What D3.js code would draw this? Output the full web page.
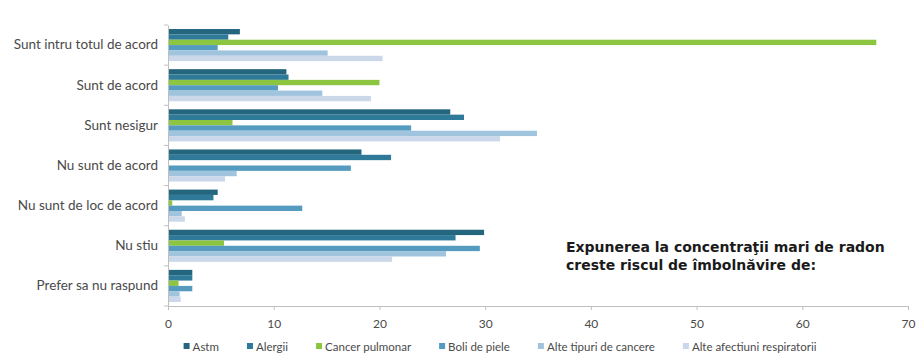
<!DOCTYPE html>
<html>
<head>
<meta charset="utf-8">
<script src="https://cdn.jsdelivr.net/npm/d3@7/dist/d3.min.js"></script>
<style>
  html, body { margin: 0; padding: 0; background: #fff; }
  svg { display: block; }
  text { font-family: Lato, "Open Sans", "DejaVu Sans", sans-serif; }
  text.note { font-family: "DejaVu Sans", Verdana, sans-serif; font-weight: bold; }
</style>
</head>
<body>
<svg id="chart" width="920" height="360"></svg>
<script>
// Response categories (top to bottom)
const categories = [
  "Sunt intru totul de acord",
  "Sunt de acord",
  "Sunt nesigur",
  "Nu sunt de acord",
  "Nu sunt de loc de acord",
  "Nu stiu",
  "Prefer sa nu raspund"
];

// Series names (legend order)
const seriesNames = [
  "Astm",
  "Alergii",
  "Cancer pulmonar",
  "Boli de piele",
  "Alte tipuri de cancere",
  "Alte afectiuni respiratorii"
];

// Percentages per series, in category order
const astm      = [6.8, 11.2, 26.7, 18.3, 4.7, 29.9, 2.3];
const alergii   = [5.7, 11.4, 28.0, 21.1, 4.3, 27.2, 2.3];
const cancerPul = [67.0, 20.0, 6.1, 0.0, 0.4, 5.3, 1.0];
const boliPiele = [4.7, 10.4, 23.0, 17.3, 12.7, 29.5, 2.3];
const alteCanc  = [15.1, 14.6, 34.9, 6.5, 1.3, 26.3, 1.1];
const alteResp  = [20.3, 19.2, 31.4, 5.4, 1.6, 21.2, 1.2];

const xTicks = [0, 10, 20, 30, 40, 50, 60, 70];

const seriesValues = [astm, alergii, cancerPul, boliPiele, alteCanc, alteResp];
const colors = ["#25667f", "#2f7a98", "#8cc540", "#559bbf", "#a0c4de", "#cbd8ea"];

const title = ["Expunerea la concentraţii mari de radon", "creste riscul de îmbolnăvire de:"];

const svg = d3.select("#chart");
const margin = { left: 168, right: 12, top: 25, bottom: 54 };
const W = 920, H = 360;

const x = d3.scaleLinear().domain([0, 70]).range([margin.left, W - margin.right]);
const y = d3.scaleBand().domain(categories).range([margin.top, H - margin.bottom]).paddingInner(0.2).paddingOuter(0.1);
const ySub = d3.scaleBand().domain(seriesNames).range([0, y.bandwidth()]);

// Bars
const groups = svg.append("g").selectAll("g")
  .data(categories)
  .join("g")
  .attr("transform", c => `translate(0,${y(c)})`);

groups.selectAll("rect")
  .data((c, ci) => seriesNames.map((s, si) => ({ s, si, v: seriesValues[si][ci] })))
  .join("rect")
  .attr("x", x(0))
  .attr("y", d => ySub(d.s))
  .attr("width", d => Math.max(0, x(d.v) - x(0)))
  .attr("height", ySub.bandwidth())
  .attr("fill", d => colors[d.si]);

// Category axis (left)
const yAxis = svg.append("g")
  .attr("transform", `translate(${x(0)},0)`)
  .call(d3.axisLeft(y).tickSize(0).tickPadding(10));
yAxis.select(".domain").attr("stroke", "#bfbfbf");
yAxis.selectAll("text").attr("font-size", 13.5).attr("fill", "#4a4a4a");
// Tick marks between categories
const plotH = H - margin.bottom - margin.top;
svg.append("g").selectAll("line")
  .data(d3.range(categories.length + 1))
  .join("line")
  .attr("x1", x(0) - 4).attr("x2", x(0))
  .attr("y1", i => margin.top + i * plotH / categories.length)
  .attr("y2", i => margin.top + i * plotH / categories.length)
  .attr("stroke", "#bfbfbf");

// Value axis (bottom)
const xAxis = svg.append("g")
  .attr("transform", `translate(0,${H - margin.bottom})`)
  .call(d3.axisBottom(x).tickValues(xTicks).tickSize(4).tickPadding(9));
xAxis.select(".domain").attr("stroke", "#bfbfbf");
xAxis.selectAll(".tick line").attr("stroke", "#bfbfbf");
xAxis.selectAll("text").attr("font-size", 12).attr("fill", "#4a4a4a");

// Legend, laid out left to right and centred under the chart
const legend = svg.append("g").attr("transform", "translate(0,351)");
const items = [];
seriesNames.forEach((name, i) => {
  const g = legend.append("g");
  g.append("rect").attr("x", 0).attr("y", -8).attr("width", 6).attr("height", 6).attr("fill", colors[i]);
  const t = g.append("text").attr("x", 9).attr("y", 0).attr("font-size", 11.5).attr("fill", "#4a4a4a").text(name);
  items.push({ g, w: 9 + t.node().getComputedTextLength() });
});
const gap = 28;
const total = d3.sum(items, d => d.w) + gap * (items.length - 1);
let lx = 500 - total / 2;
items.forEach(d => { d.g.attr("transform", `translate(${lx},0)`); lx += d.w + gap; });

// Annotation
svg.append("g").selectAll("text")
  .data(title)
  .join("text")
  .attr("class", "note")
  .attr("x", 566)
  .attr("y", (d, i) => 252 + i * 18)
  .attr("font-size", 14)
  .attr("fill", "#1a1a1a")
  .text(d => d);
</script>
</body>
</html>
